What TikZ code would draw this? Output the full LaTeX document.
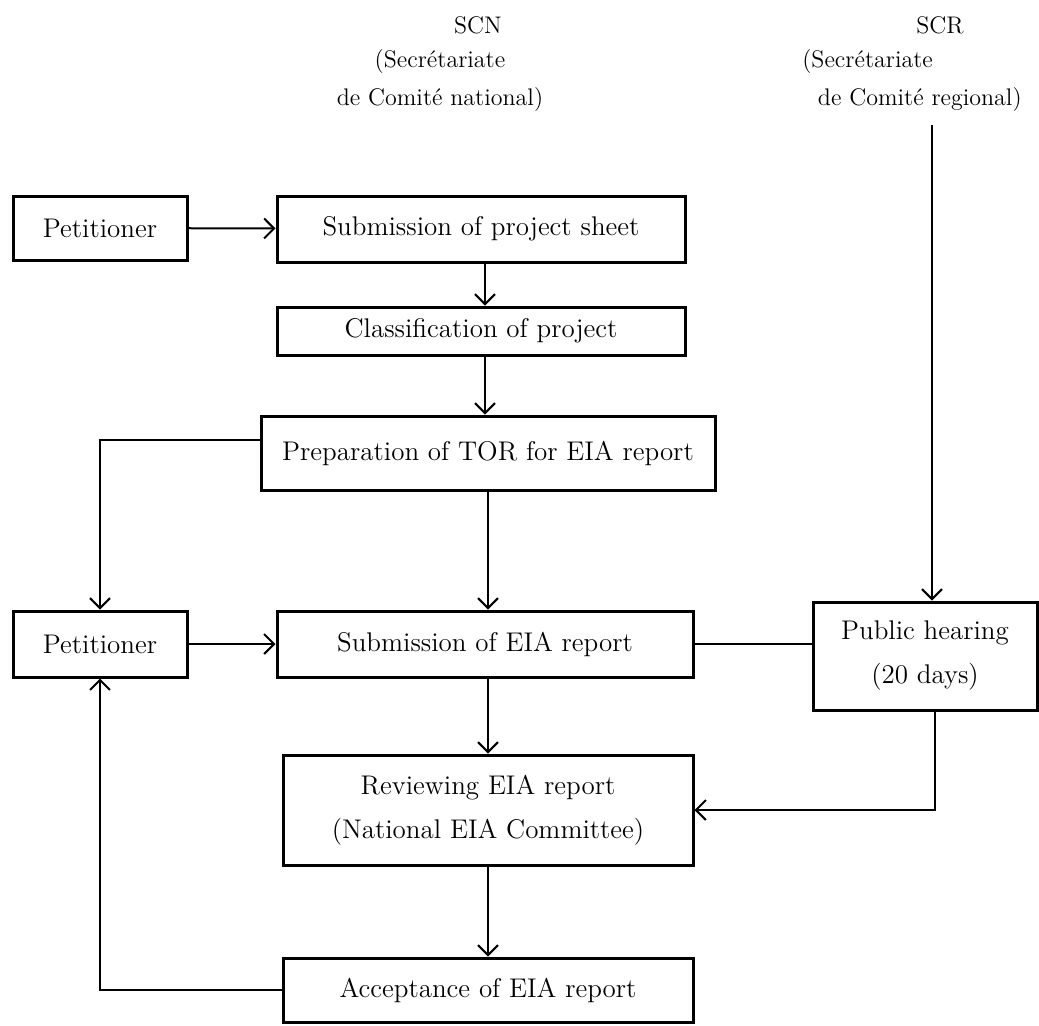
\documentclass[tikz,border=0pt]{standalone}
\usetikzlibrary{arrows.meta}
\tikzset{box/.style={draw,line width=1.5pt,inner sep=0pt,align=center,font=\fontsize{13.5}{22}\selectfont},
  flow/.style={line width=1pt,-{Straight Barb[length=5pt,width=10pt,line width=1pt]}},
  link/.style={line width=1pt},
  head/.style={align=center,font=\fontsize{12}{19}\selectfont}}

\begin{document}
\begin{tikzpicture}[x=0.5pt,y=-0.5pt]
    \useasboundingbox (0,0) rectangle (1039,1025);
    % headers
    \node[head] (scn) at (478,25) {SCN};
    \node[head] (scntxt) at (440,81) {(Secrétariate\\de Comité national)};
    \node[head] (scr) at (940,25) {SCR};
    \node[head,align=left] (scrtxt) at (912,81) {(Secrétariate\\\ \ de Comité regional)};
    \coordinate (scrfoot) at (932,125);
    % boxes
    \node[box,minimum width=87pt,minimum height=32pt] (petA) at (100,228) {Petitioner};
    \node[box,minimum width=204pt,minimum height=33pt] (sheet) at (481,229) {Submission of project sheet};
    \node[box,minimum width=204pt,minimum height=24pt] (classif) at (481,331) {Classification of project};
    \node[box,minimum width=227pt,minimum height=37pt] (tor) at (488,453) {Preparation of TOR for EIA report};
    \node[box,minimum width=87pt,minimum height=33pt] (petB) at (100,644) {Petitioner};
    \node[box,minimum width=208pt,minimum height=33pt] (eiasub) at (485,644) {Submission of EIA report};
    \node[box,minimum width=112pt,minimum height=54pt] (hearing) at (925,656) {Public hearing\\(20 days)};
    \node[box,minimum width=205pt,minimum height=55pt] (review) at (488,810) {Reviewing EIA report\\(National EIA Committee)};
    \node[box,minimum width=205pt,minimum height=32pt] (accept) at (488,990) {Acceptance of EIA report};
    % connectors
    \draw[flow] (petA) -- (sheet);
    \draw[flow] (sheet.south -| 485,0) -- (classif.north -| 485,0);
    \draw[flow] (classif.south -| 485,0) -- (tor.north -| 485,0);
    \draw[flow] (tor.south -| 488,0) -- (eiasub.north -| 488,0);
    \draw[flow] (tor.west |- 0,440) -| (petB);
    \draw[flow] (petB) -- (eiasub);
    \draw[link] (eiasub) -- (hearing.west |- eiasub);
    \draw[flow] (scrfoot) -- (scrfoot |- hearing.north);
    \draw[flow] (hearing.south -| 935,0) |- (review);
    \draw[flow] (eiasub.south -| 488,0) -- (review);
    \draw[flow] (review) -- (accept);
    \draw[flow] (accept) -| (petB);
\end{tikzpicture}
\end{document}
